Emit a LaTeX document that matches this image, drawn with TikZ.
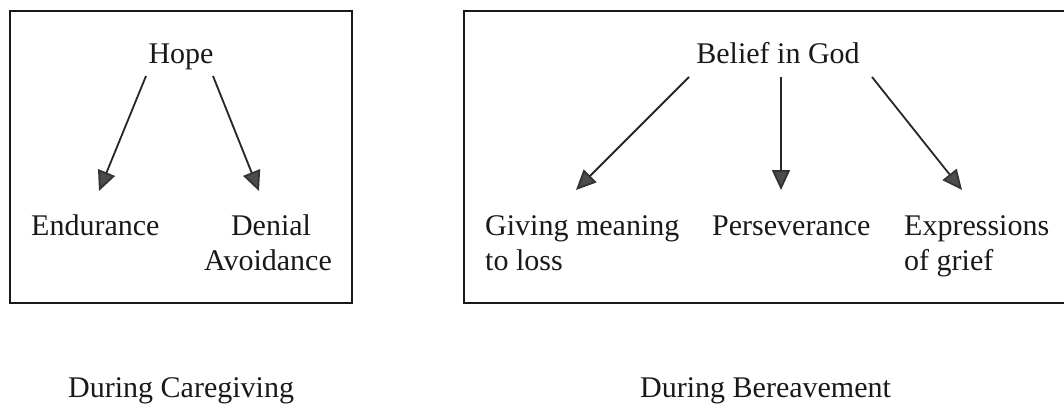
\documentclass[tikz,border=0pt]{standalone}
\usepackage{fontspec}
\setmainfont{Liberation Serif}
\usetikzlibrary{arrows.meta}
\begin{document}
\begin{tikzpicture}[x=1pt,y=-1pt,
  lbl/.style={font=\fontsize{30}{35}\selectfont, inner sep=0pt, text=black!90},
  frame/.style={draw=black!90, line width=2.2pt},
  arr/.style={draw=black!85, line width=1.8pt,
    -{Triangle[length=20pt,width=18pt,fill=black!70,color=black!80]}}]
\useasboundingbox (0,0) rectangle (1064,407);

% framing boxes (the right one runs past the page edge)
\begin{scope}
  \clip (0,0) rectangle (1064,407);
  \draw[frame] (10,11) rectangle (352,303);
  \draw[frame] (464,11) rectangle (1090,303);
\end{scope}

% caregiving
\node[lbl, anchor=base] (hope) at (181,63) {Hope};
\node[lbl, anchor=base west] (endur) at (31,235) {Endurance};
\node[lbl, anchor=base] (denial) at (271,235) {Denial};
\node[lbl, anchor=base] (avoid) at (268,270) {Avoidance};

\coordinate (h1s) at (146,76);  \coordinate (h1e) at (99,191);
\coordinate (h2s) at (213,76);  \coordinate (h2e) at (259,191);
\draw[arr] (h1s) -- (h1e);
\draw[arr] (h2s) -- (h2e);

% bereavement
\node[lbl, anchor=base] (god) at (778,63) {Belief in God};
\node[lbl, anchor=base west] (mean1) at (485,235) {Giving meaning};
\node[lbl, anchor=base west] (mean2) at (485,270) {to loss};
\node[lbl, anchor=base west] (persev) at (712,235) {Perseverance};
\node[lbl, anchor=base west] (grief1) at (904,235) {Expressions};
\node[lbl, anchor=base west] (grief2) at (904,270) {of grief};

\coordinate (g1s) at (689,77);  \coordinate (g1e) at (576,190);
\coordinate (g2s) at (781,77);  \coordinate (g2e) at (781,190);
\coordinate (g3s) at (872,77);  \coordinate (g3e) at (962,190);
\draw[arr] (g1s) -- (g1e);
\draw[arr] (g2s) -- (g2e);
\draw[arr] (g3s) -- (g3e);

% captions
\node[lbl, anchor=base west] (cap1) at (68,397) {During Caregiving};
\node[lbl, anchor=base west] (cap2) at (640,397) {During Bereavement};
\end{tikzpicture}
\end{document}
